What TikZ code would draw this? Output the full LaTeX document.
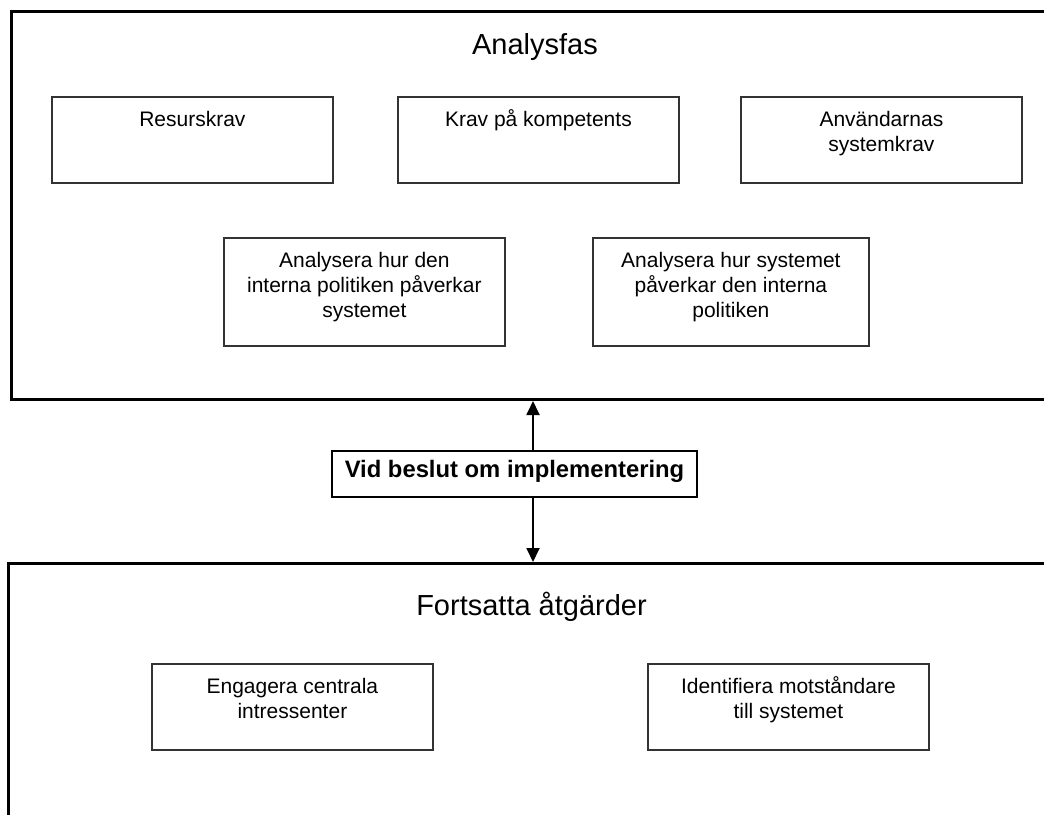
\documentclass[tikz,border=0pt]{standalone}
\usepackage{fontspec}
\setmainfont{Liberation Sans}
\usetikzlibrary{arrows.meta,calc}
\tikzset{
  outer/.style={draw=black,line width=3pt,inner sep=0pt,anchor=north west},
  inbox/.style={draw=black!80,line width=1.8pt,inner sep=0pt,anchor=north west,minimum width=281pt,minimum height=86pt},
  bodytxt/.style={inner sep=0pt,anchor=north,align=center,font=\fontsize{21}{25}\selectfont},
  title/.style={inner sep=0pt,anchor=base,font=\fontsize{29}{34}\selectfont},
  arr/.style={line width=1.8pt,-{Triangle[length=14pt,width=13pt]}},
}
\begin{document}
\begin{tikzpicture}[x=1pt,y=-1pt]
\clip (0,0) rectangle (1044,814);
\fill[white] (0,0) rectangle (1044,814);
% outer frames
\node[outer,minimum width=1045pt,minimum height=388pt] (ana) at (10,10) {};
\node[outer,minimum width=1045pt,minimum height=270pt] (fort) at (7,562) {};
\node[title] (anat) at (535,54) {Analysfas};
\node[title] (fortt) at (531.5,615) {Fortsatta åtgärder};
% analysis boxes
\node[inbox] (res) at (51,96) {};
\node[inbox] (krav) at (397,96) {};
\node[inbox] (anv) at (740,96) {};
\node[inbox,minimum height=108pt] (an1) at (223,237) {};
\node[inbox,minimum width=276pt,minimum height=108pt] (an2) at (592,237) {};
\node[bodytxt] (rest) at ($(res.north)+(0,12.5)$) {\strut Resurskrav};
\node[bodytxt] (kravt) at ($(krav.north)+(0,12.5)$) {\strut Krav på kompetents};
\node[bodytxt] (anvt) at ($(anv.north)+(0,12.5)$) {\strut Användarnas\\systemkrav};
\node[bodytxt] (an1t) at ($(an1.north)+(0,12.5)$) {\strut Analysera hur den\\interna politiken påverkar\\systemet};
\node[bodytxt] (an2t) at ($(an2.north)+(0,12.5)$) {\strut Analysera hur systemet\\påverkar den interna\\politiken};
% action boxes
\node[inbox,minimum height=86pt] (eng) at (151,663) {};
\node[inbox,minimum height=86pt] (idf) at (647,663) {};
\node[bodytxt] (engt) at ($(eng.north)+(0,12.5)$) {\strut Engagera centrala\\intressenter};
\node[bodytxt] (idft) at ($(idf.north)+(0,12.5)$) {\strut Identifiera motståndare\\till systemet};
% decision
\node[draw=black,line width=2.4pt,inner sep=0pt,minimum width=365pt,minimum height=46pt,
      text height=15pt,text depth=9pt,font=\fontsize{23.8}{27}\selectfont\bfseries] (vid) at (514.5,474) {Vid beslut om implementering};
\coordinate (ax) at (533,0);
\draw[arr] (vid.north -| ax) -- (ana.south -| ax);
\draw[arr] (vid.south -| ax) -- (fort.north -| ax);
\end{tikzpicture}
\end{document}
